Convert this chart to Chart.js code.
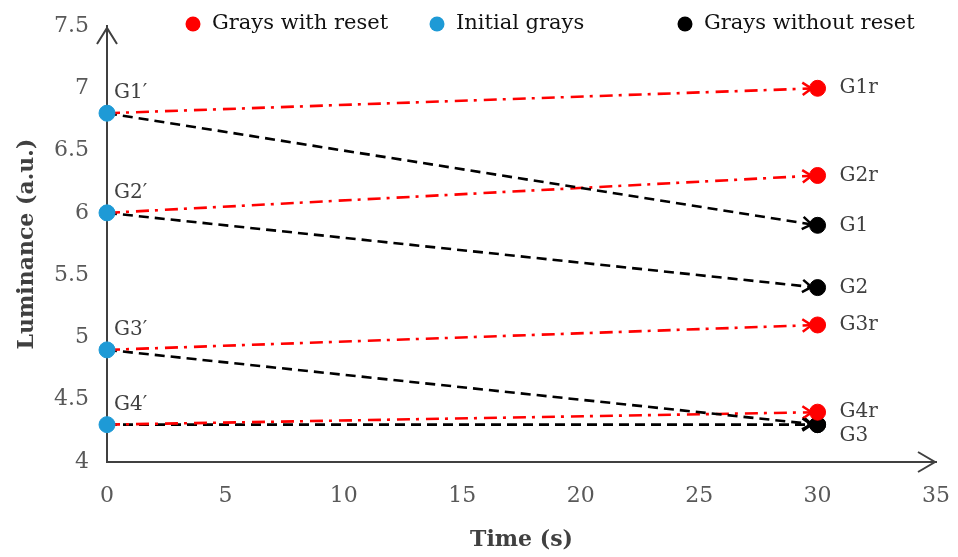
<!DOCTYPE html>
<html>
<head>
<meta charset="utf-8">
<script src="https://cdn.jsdelivr.net/npm/chart.js@4.4.1/dist/chart.umd.min.js"></script>
<style>
  body { margin: 0; background: #fff; }
  #wrap { width: 958px; height: 557px; position: relative; }
</style>
</head>
<body>
<div id="wrap"><canvas id="lum"></canvas></div>
<script>
// donnees
const tStart = 0
const tEnd = 30
const initialLabels = ["G1′", "G2′", "G3′", "G4′"]
const initialGrays = [6.8, 6.0, 4.9, 4.3]
const resetLabels = ["G1r", "G2r", "G3r", "G4r"]
const resetGrays = [7.0, 6.3, 5.1, 4.4]
const noResetLabels = ["G1", "G2", "G3", ""]
const noResetGrays = [5.9, 5.4, 4.3, 4.3]
const xTicks = [0, 5, 10, 15, 20, 25, 30, 35]
const yTicks = [4, 4.5, 5, 5.5, 6, 6.5, 7, 7.5]

const RED = '#ff0000'
const BLUE = '#1e9ad6'
const BLACK = '#000000'
const AXIS = '#404040'
const FONT = "'DejaVu Serif', serif"

const pts = (vals, t) => vals.map(v => ({ x: t, y: v }))

const datasets = [
    { type: 'scatter', label: 'Grays with reset', data: pts(resetGrays, tEnd), backgroundColor: RED, borderColor: RED, pointRadius: 8, clip: false },
    { type: 'scatter', label: 'Grays without reset', data: pts(noResetGrays, tEnd), backgroundColor: BLACK, borderColor: BLACK, pointRadius: 8, clip: false },
    { type: 'scatter', label: 'Initial grays', data: pts(initialGrays, tStart), backgroundColor: BLUE, borderColor: BLUE, pointRadius: 8, clip: false }
]
initialGrays.forEach((g, i) => {
    datasets.push({
        type: 'line', label: 'reset' + i, arrow: true,
        data: [{ x: tStart, y: g }, { x: tEnd, y: resetGrays[i] }],
        borderColor: RED, borderWidth: 2.6, borderDash: [13, 6, 3, 7], pointRadius: 0, fill: false
    })
    datasets.push({
        type: 'line', label: 'noreset' + i, arrow: true,
        data: [{ x: tStart, y: g }, { x: tEnd, y: noResetGrays[i] }],
        borderColor: BLACK, borderWidth: 2.6, borderDash: [10, 6], pointRadius: 0, fill: false
    })
})

// fleches, etiquettes et legende
const decor = {
    id: 'decor',
    afterDatasetsDraw(chart) {
        const ctx = chart.ctx
        const xs = chart.scales.x, ys = chart.scales.y
        ctx.save()
        // fleches au bout des segments
        chart.data.datasets.forEach((ds) => {
            if (!ds.arrow) return
            const x0 = xs.getPixelForValue(ds.data[0].x), y0 = ys.getPixelForValue(ds.data[0].y)
            const x1 = xs.getPixelForValue(ds.data[1].x), y1 = ys.getPixelForValue(ds.data[1].y)
            const a = Math.atan2(y1 - y0, x1 - x0)
            const tx = x1 - 6 * Math.cos(a), ty = y1 - 6 * Math.sin(a)
            ctx.strokeStyle = ds.borderColor
            ctx.lineWidth = 2.5
            ctx.setLineDash([])
            ctx.beginPath()
            ctx.moveTo(tx - 11 * Math.cos(a - 0.6), ty - 11 * Math.sin(a - 0.6))
            ctx.lineTo(tx, ty)
            ctx.lineTo(tx - 11 * Math.cos(a + 0.6), ty - 11 * Math.sin(a + 0.6))
            ctx.stroke()
        })
        // etiquettes des points
        ctx.font = '20px ' + FONT
        ctx.fillStyle = AXIS
        ctx.textBaseline = 'middle'
        ctx.textAlign = 'left'
        initialGrays.forEach((g, i) => {
            ctx.fillText(initialLabels[i], xs.getPixelForValue(tStart) + 7, ys.getPixelForValue(g) - 20)
        })
        resetGrays.forEach((g, i) => {
            ctx.fillText(resetLabels[i], xs.getPixelForValue(tEnd) + 22, ys.getPixelForValue(g))
        })
        noResetGrays.forEach((g, i) => {
            let y = ys.getPixelForValue(g)
            const clash = resetGrays.some(r => Math.abs(ys.getPixelForValue(r) - y) < 20)
            if (clash) y += 11
            ctx.fillText(noResetLabels[i], xs.getPixelForValue(tEnd) + 22, y)
        })
        // fleches des axes
        const l = chart.chartArea.left, b = chart.chartArea.bottom
        const r = chart.chartArea.right, t = chart.chartArea.top
        ctx.strokeStyle = AXIS
        ctx.lineWidth = 2
        ctx.beginPath()
        ctx.moveTo(l - 10, t + 18); ctx.lineTo(l, t + 2); ctx.lineTo(l + 10, t + 18)
        ctx.moveTo(r - 18, b - 10); ctx.lineTo(r - 1, b); ctx.lineTo(r - 18, b + 10)
        ctx.stroke()
        // legende
        const leg = [[193, RED, 'Grays with reset'], [437, BLUE, 'Initial grays'], [685, BLACK, 'Grays without reset']]
        ctx.font = '21px ' + FONT
        leg.forEach(([x, c, txt]) => {
            ctx.fillStyle = c
            ctx.beginPath()
            ctx.arc(x, 24, 7.5, 0, Math.PI * 2)
            ctx.fill()
            ctx.fillStyle = '#111'
            ctx.fillText(txt, x + 19, 24)
        })
        ctx.restore()
    }
}

new Chart(document.getElementById('lum'), {
    data: { datasets: datasets },
    options: {
        responsive: true,
        maintainAspectRatio: false,
        animation: false,
        layout: { padding: { top: 26, right: 22, left: 0, bottom: 0 } },
        scales: {
            x: {
                type: 'linear', min: 0, max: 35,
                afterFit: (s) => { s.height = 95 },
                afterBuildTicks: (s) => { s.ticks = xTicks.map(v => ({ value: v })) },
                grid: { display: false, drawTicks: true, tickLength: 19 },
                border: { display: true, color: AXIS, width: 2 },
                ticks: { color: '#595959', padding: 2, font: { family: FONT, size: 22 }, callback: (v) => String(v) },
                title: { display: true, text: 'Time (s)', color: AXIS, padding: { top: 2 }, font: { family: FONT, size: 22, weight: 'bold' } }
            },
            y: {
                type: 'linear', min: 4, max: 7.5,
                afterFit: (s) => { s.width = 107 },
                afterBuildTicks: (s) => { s.ticks = yTicks.map(v => ({ value: v })) },
                grid: { display: false, drawTicks: true, tickLength: 16 },
                border: { display: true, color: AXIS, width: 2 },
                ticks: { color: '#595959', padding: 2, font: { family: FONT, size: 22 }, callback: (v) => String(v) },
                title: { display: true, text: 'Luminance (a.u.)', color: AXIS, padding: { top: 14 }, font: { family: FONT, size: 22, weight: 'bold' } }
            }
        },
        plugins: {
            legend: { display: false },
            tooltip: { enabled: false }
        }
    },
    plugins: [decor]
})
</script>
</body>
</html>
